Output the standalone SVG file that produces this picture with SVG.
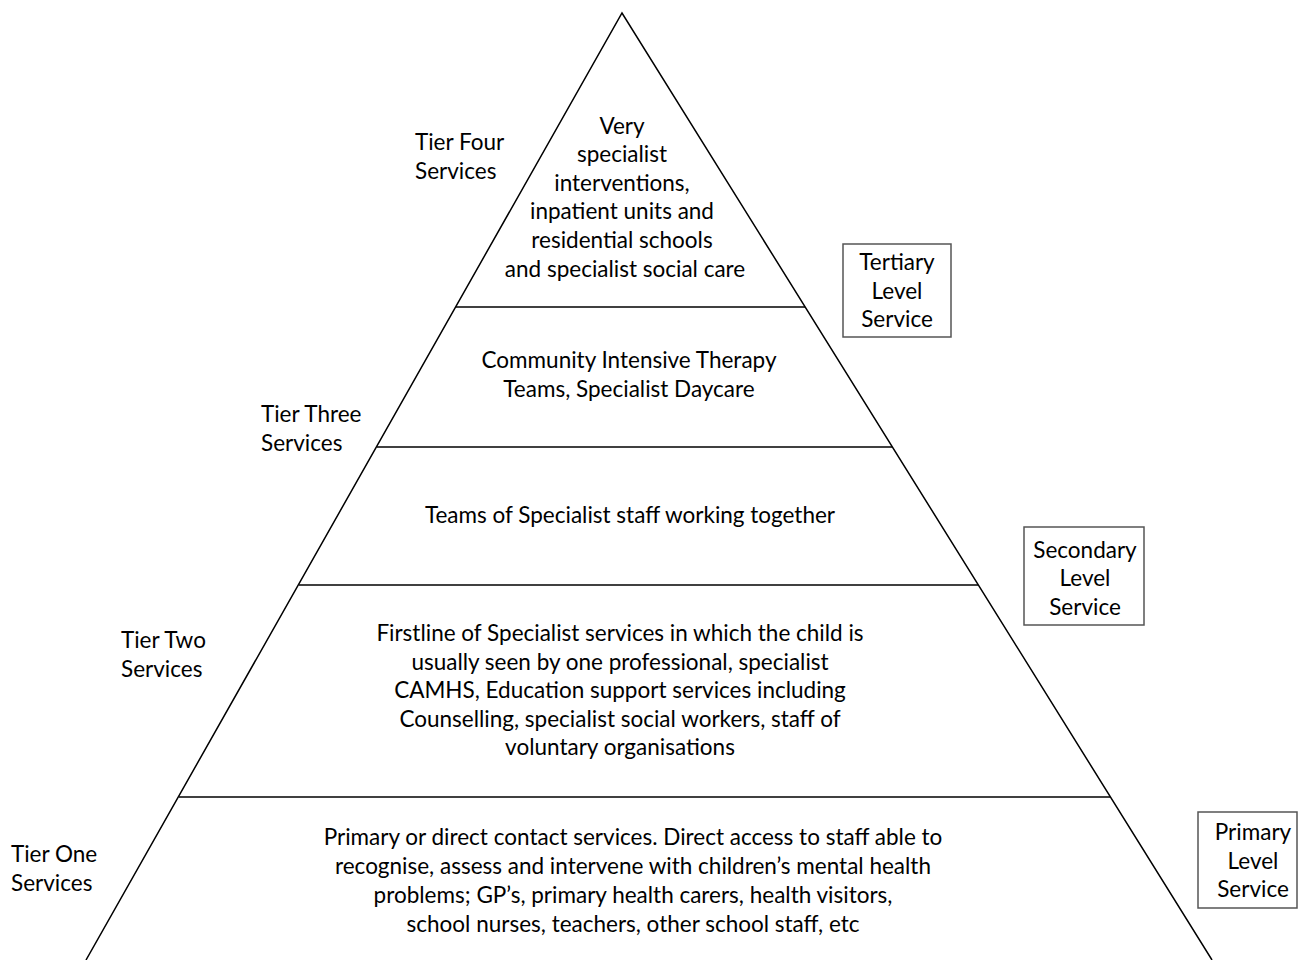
<svg xmlns="http://www.w3.org/2000/svg" width="1310" height="960" viewBox="0 0 1310 960">
<style>
text{font-family:Lato,"Open Sans","Liberation Sans",sans-serif;font-size:22.5px;fill:#000}
.c{text-anchor:middle}
.l{stroke:#000;stroke-width:1.5;fill:none}
.b{stroke:#555;stroke-width:1.5;fill:#fff}
</style>
<rect width="1310" height="960" fill="#fff"/>
<g id="connectors">
<polyline class="l" points="86,960 622,13 1212,960"/>
<line class="l" x1="456" y1="307" x2="805" y2="307"/>
<line class="l" x1="377" y1="447" x2="892" y2="447"/>
<line class="l" x1="299" y1="585" x2="978" y2="585"/>
<line class="l" x1="179" y1="797" x2="1110" y2="797"/>
</g>
<g id="tier4">
<text class="c" x="622" y="134">Very</text>
<text class="c" x="622" y="162">specialist</text>
<text class="c" x="622" y="191">interventions,</text>
<text class="c" x="622" y="219">inpatient units and</text>
<text class="c" x="622" y="248">residential schools</text>
<text class="c" x="625" y="277">and specialist social care</text>
</g>
<g id="tier3">
<text class="c" x="629" y="368">Community Intensive Therapy</text>
<text class="c" x="629" y="397">Teams, Specialist Daycare</text>
</g>
<g id="tier3b">
<text class="c" x="630" y="523">Teams of Specialist staff working together</text>
</g>
<g id="tier2">
<text class="c" x="620" y="641">Firstline of Specialist services in which the child is</text>
<text class="c" x="620" y="670">usually seen by one professional, specialist</text>
<text class="c" x="620" y="698">CAMHS, Education support services including</text>
<text class="c" x="620" y="727">Counselling, specialist social workers, staff of</text>
<text class="c" x="620" y="755">voluntary organisations</text>
</g>
<g id="tier1">
<text class="c" x="633" y="845">Primary or direct contact services. Direct access to staff able to</text>
<text class="c" x="633" y="874">recognise, assess and intervene with children’s mental health</text>
<text class="c" x="633" y="903">problems; GP’s, primary health carers, health visitors,</text>
<text class="c" x="633" y="932">school nurses, teachers, other school staff, etc</text>
</g>
<g id="label-tier4">
<text x="415" y="150">Tier Four</text>
<text x="415" y="179">Services</text>
</g>
<g id="label-tier3">
<text x="261" y="422">Tier Three</text>
<text x="261" y="451">Services</text>
</g>
<g id="label-tier2">
<text x="121" y="648">Tier Two</text>
<text x="121" y="677">Services</text>
</g>
<g id="label-tier1">
<text x="11" y="862">Tier One</text>
<text x="11" y="891">Services</text>
</g>
<g id="tertiary">
<rect class="b" x="843" y="244" width="108" height="93"/>
<text class="c" x="897" y="270">Tertiary</text>
<text class="c" x="897" y="299">Level</text>
<text class="c" x="897" y="327">Service</text>
</g>
<g id="secondary">
<rect class="b" x="1024" y="527" width="120" height="98"/>
<text class="c" x="1085" y="558">Secondary</text>
<text class="c" x="1085" y="586">Level</text>
<text class="c" x="1085" y="615">Service</text>
</g>
<g id="primary">
<rect class="b" x="1198" y="812" width="99" height="96"/>
<text class="c" x="1253" y="840">Primary</text>
<text class="c" x="1253" y="869">Level</text>
<text class="c" x="1253" y="897">Service</text>
</g>
</svg>
